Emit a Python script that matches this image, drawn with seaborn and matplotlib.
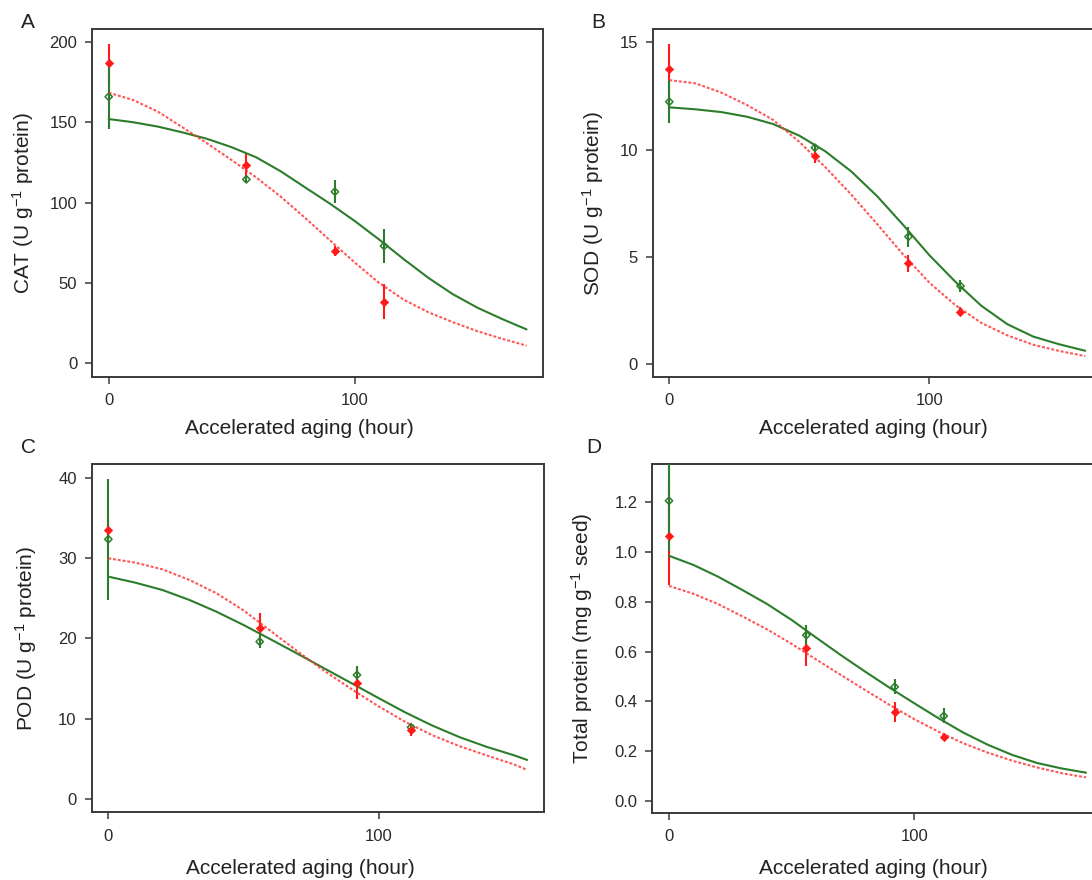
import numpy as np
import pandas as pd
import seaborn as sns
import matplotlib
matplotlib.use("Agg")
import matplotlib.pyplot as plt

sns.set_style("white")
plt.rcParams["font.family"] = ["Liberation Sans", "DejaVu Sans"]
plt.rcParams["mathtext.fontset"] = "custom"
plt.rcParams["mathtext.rm"] = "Liberation Sans"
plt.rcParams["mathtext.it"] = "Liberation Sans:italic"
plt.rcParams["mathtext.bf"] = "Liberation Sans:bold"

# Sampling times (hours of accelerated aging)
hours = [0, 56, 92, 112]

# ---- Panel A: CAT ----
cat_red = [186.6, 123.3, 70.0, 38.3]
cat_red_err = [12.0, 6.7, 3.0, 11.0]
cat_green = [165.8, 114.4, 106.7, 73.0]
cat_green_err = [20.0, 2.0, 7.2, 10.3]
cat_fit_x = [0, 10, 20, 30, 40, 50, 60, 70, 80, 90, 100, 110, 120, 130, 140, 150, 160, 170]
cat_fit_green = [151.9, 149.9, 147.2, 143.6, 139.6, 134.4, 128.1, 119.4, 109.3, 99.3,
                 88.6, 77.0, 64.8, 53.2, 43.0, 34.6, 27.6, 21.1]
cat_fit_red = [168.3, 163.7, 156.5, 146.8, 136.8, 126.4, 115.6, 103.6, 90.3, 76.5,
               62.8, 50.0, 39.6, 31.8, 25.6, 20.0, 15.3, 11.0]

# ---- Panel B: SOD ----
sod_red = [13.74, 9.71, 4.69, 2.44]
sod_red_err = [1.2, 0.35, 0.4, 0.2]
sod_green = [12.23, 10.09, 5.94, 3.64]
sod_green_err = [1.0, 0.15, 0.47, 0.3]
sod_fit_x = [0, 10, 20, 30, 40, 50, 60, 70, 80, 90, 100, 110, 120, 130, 140, 150, 160]
sod_fit_green = [11.97, 11.88, 11.75, 11.53, 11.19, 10.65, 9.92, 8.98, 7.82, 6.48,
                 5.08, 3.84, 2.72, 1.86, 1.28, 0.92, 0.62]
sod_fit_red = [13.24, 13.09, 12.66, 12.07, 11.38, 10.36, 9.18, 7.90, 6.52, 5.10,
               3.80, 2.75, 1.92, 1.34, 0.90, 0.61, 0.37]

# ---- Panel C: POD ----
pod_red = [33.5, 21.35, 14.5, 8.62]
pod_red_err = [1.5, 1.8, 2.0, 0.8]
pod_green = [32.34, 19.6, 15.46, 8.96]
pod_green_err = [7.5, 0.8, 1.1, 0.4]
pod_fit_x = [0, 10, 20, 30, 40, 50, 60, 70, 80, 90, 100, 110, 120, 130, 140, 150, 155]
pod_fit_green = [27.69, 26.94, 26.03, 24.79, 23.33, 21.68, 19.90, 18.10, 16.26, 14.43,
                 12.58, 10.78, 9.15, 7.72, 6.52, 5.48, 4.89]
pod_fit_red = [29.97, 29.43, 28.60, 27.28, 25.62, 23.50, 20.95, 18.40, 15.95, 13.70,
               11.55, 9.60, 7.95, 6.60, 5.45, 4.35, 3.64]

# ---- Panel D: total protein ----
prot_red = [1.066, 0.613, 0.358, 0.257]
prot_red_err = [0.20, 0.07, 0.04, 0.01]
prot_green = [1.206, 0.666, 0.458, 0.341]
prot_green_err = [0.20, 0.04, 0.03, 0.03]
prot_fit_x = [0, 10, 20, 30, 40, 50, 60, 70, 80, 90, 100, 110, 120, 130, 140, 150, 160, 170]
prot_fit_green = [0.985, 0.948, 0.901, 0.847, 0.791, 0.727, 0.656, 0.586, 0.519, 0.454,
                  0.392, 0.331, 0.274, 0.225, 0.184, 0.152, 0.130, 0.113]
prot_fit_red = [0.864, 0.832, 0.791, 0.741, 0.689, 0.631, 0.568, 0.506, 0.445, 0.385,
                0.328, 0.277, 0.231, 0.193, 0.161, 0.134, 0.111, 0.094]

RED = "#ff1a1a"
RED_LINE = "#ff3b3b"
GREEN = "#2b7d2b"
EDGE = "#3a3a3a"

fig = plt.figure(figsize=(10.92, 8.8), dpi=100)
W, H = 1092.0, 880.0


def make_axes(left, top, right, bottom):
    return fig.add_axes([left / W, 1 - bottom / H, (right - left) / W, (bottom - top) / H])


panels = [
    dict(box=(92, 29.3, 543.3, 376.7), xlim=(-6.8, 176.8), ylim=(-8.3, 207.7),
         yticks=[0, 50, 100, 150, 200], fmt="{:.0f}",
         ylabel="CAT (U g$^{-1}$ protein)", red=cat_red, red_err=cat_red_err,
         green=cat_green, green_err=cat_green_err, fx=cat_fit_x,
         fg=cat_fit_green, fr=cat_fit_red, ylab_x=-0.153, xlab=(0.46, -0.1505),
         letter=("A", 28, 22)),
    dict(box=(652.7, 29.3, 1101.9, 376.7), xlim=(-6.4, 166.4), ylim=(-0.59, 15.61),
         yticks=[0, 5, 10, 15], fmt="{:.0f}",
         ylabel="SOD (U g$^{-1}$ protein)", red=sod_red, red_err=sod_red_err,
         green=sod_green, green_err=sod_green_err, fx=sod_fit_x,
         fg=sod_fit_green, fr=sod_fit_red, ylab_x=-0.133, xlab=(0.4916, -0.1505),
         letter=("B", 598, 22)),
    dict(box=(91.6, 464, 544, 812.3), xlim=(-6.2, 161.2), ylim=(-1.62, 41.7),
         yticks=[0, 10, 20, 30, 40], fmt="{:.0f}",
         ylabel="POD (U g$^{-1}$ protein)", red=pod_red, red_err=pod_red_err,
         green=pod_green, green_err=pod_green_err, fx=pod_fit_x,
         fg=pod_fit_green, fr=pod_fit_red, ylab_x=-0.145, xlab=(0.461, -0.16),
         letter=("C", 28, 447)),
    dict(box=(652.3, 464, 1102.7, 812.7), xlim=(-6.8, 176.8), ylim=(-0.048, 1.354),
         yticks=[0.0, 0.2, 0.4, 0.6, 0.8, 1.0, 1.2], fmt="{:.1f}",
         ylabel="Total protein (mg g$^{-1}$ seed)", red=prot_red, red_err=prot_red_err,
         green=prot_green, green_err=prot_green_err, fx=prot_fit_x,
         fg=prot_fit_green, fr=prot_fit_red, ylab_x=-0.155, xlab=(0.491, -0.16),
         letter=("D", 594, 447)),
]

for p in panels:
    ax = make_axes(*p["box"])
    ax.set_facecolor("white")

    # error bars: red first, green drawn over it
    ax.vlines(hours, np.array(p["red"]) - np.array(p["red_err"]),
              np.array(p["red"]) + np.array(p["red_err"]),
              color=RED, linewidth=1.5, zorder=2)
    ax.vlines(hours, np.array(p["green"]) - np.array(p["green_err"]),
              np.array(p["green"]) + np.array(p["green_err"]),
              color=GREEN, linewidth=1.5, zorder=3)

    # fitted curves
    fit = pd.DataFrame({"hour": p["fx"], "green": p["fg"], "red": p["fr"]})
    sns.lineplot(data=fit, x="hour", y="green", ax=ax, color=GREEN, linewidth=1.5,
                 estimator=None, sort=False, zorder=4)
    sns.lineplot(data=fit, x="hour", y="red", ax=ax, color=RED_LINE, linewidth=1.5,
                 linestyle=(0, (1.4, 0.9)), estimator=None, sort=False, zorder=4, alpha=0.85)

    # observed means
    sns.scatterplot(x=hours, y=p["green"], ax=ax, marker="D", s=14,
                    facecolor="none", edgecolor=GREEN, linewidth=1.1, zorder=5)
    sns.scatterplot(x=hours, y=p["red"], ax=ax, marker="D", s=18,
                    color=RED, edgecolor=RED, linewidth=0.5, zorder=6)

    ax.set_xlim(*p["xlim"])
    ax.set_ylim(*p["ylim"])
    ax.set_xticks([0, 100])
    ax.set_xticklabels(["0", "100"])
    ax.set_yticks(p["yticks"])
    ax.set_yticklabels([p["fmt"].format(v) for v in p["yticks"]])

    for sp in ax.spines.values():
        sp.set_visible(True)
        sp.set_color(EDGE)
        sp.set_linewidth(1.4)

    ax.tick_params(axis="both", direction="out", length=5.2, width=1.1, color=EDGE,
                   labelsize=12, labelcolor="#2a2a2a", bottom=True, left=True)
    ax.tick_params(axis="y", pad=5.5)
    ax.tick_params(axis="x", pad=6.5)

    ax.set_xlabel("Accelerated aging (hour)", fontsize=15, color="#222222")
    ax.xaxis.label.set_va("center")
    ax.xaxis.set_label_coords(*p["xlab"])
    ax.set_ylabel(p["ylabel"], fontsize=15, color="#222222")
    ax.yaxis.label.set_va("center")
    ax.yaxis.set_label_coords(p["ylab_x"], 0.5)

    letter, lx, ly = p["letter"]
    fig.text(lx / W, 1 - ly / H, letter, fontsize=15, color="#222222",
             ha="center", va="center")

fig.savefig("out.png", dpi=100, facecolor="white")
